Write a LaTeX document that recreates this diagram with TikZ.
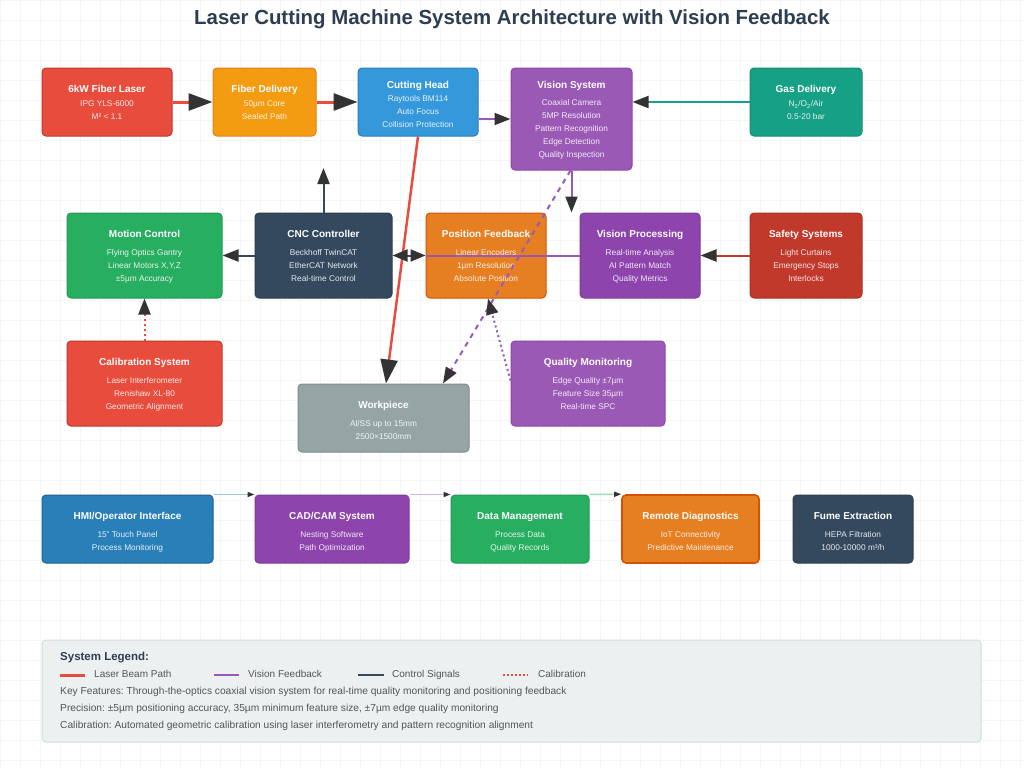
\documentclass[tikz,border=0pt]{standalone}
\usepackage{fontspec}
\setmainfont{Liberation Sans}
\usetikzlibrary{arrows.meta}
\definecolor{titlec}{HTML}{2C3E50}
\definecolor{cRed}{HTML}{E74C3C}\definecolor{cRedD}{HTML}{C0392B}
\definecolor{cOrg}{HTML}{F39C12}\definecolor{cOrgD}{HTML}{E67E22}
\definecolor{cBlue}{HTML}{3498DB}\definecolor{cBlueD}{HTML}{2980B9}
\definecolor{cPur}{HTML}{9B59B6}\definecolor{cPurD}{HTML}{8E44AD}
\definecolor{cPur2}{HTML}{8E44AD}\definecolor{cPur2D}{HTML}{7D3C98}
\definecolor{cTeal}{HTML}{16A085}\definecolor{cTealD}{HTML}{138D75}
\definecolor{cGreen}{HTML}{27AE60}\definecolor{cGreenD}{HTML}{229954}
\definecolor{cDark}{HTML}{34495E}\definecolor{cDarkD}{HTML}{2C3E50}
\definecolor{cOrg2}{HTML}{E67E22}\definecolor{cOrg2D}{HTML}{D35400}
\definecolor{cSafe}{HTML}{C0392B}\definecolor{cSafeD}{HTML}{A93226}
\definecolor{cGray}{HTML}{95A5A6}\definecolor{cGrayD}{HTML}{7F8C8D}
\definecolor{cHmi}{HTML}{2980B9}\definecolor{cHmiD}{HTML}{1F618D}
\definecolor{ahead}{HTML}{333333}
\definecolor{gridc}{HTML}{F4F6F7}
\definecolor{legF}{HTML}{ECF0F1}\definecolor{legB}{HTML}{D5DBDB}
\definecolor{legT}{HTML}{555555}
\frenchspacing
\begin{document}
\begin{tikzpicture}[x=1pt,y=-1pt,
  bx/.style 2 args={fill=#1, draw=#2, rounded corners=4pt, line width=1pt, inner sep=0pt},
  ttl/.style={font=\bfseries\fontsize{10}{12}\selectfont, text=white, inner sep=0pt, text height=7pt, text depth=2pt},
  sub/.style={font=\fontsize{8.3}{13}\selectfont, text=white, text opacity=0.88, align=center, inner sep=0pt},
  bighead/.style={-{Triangle[length=24pt,width=17pt,color=ahead]}},
  midhead/.style={-{Triangle[length=16pt,width=12pt,color=ahead]}},
  smallhead/.style={-{Triangle[length=7pt,width=5pt,color=ahead]}},
  legtext/.style={font=\fontsize{10.2}{12}\selectfont, text=legT, anchor=west, inner sep=0pt, text height=7.4pt, text depth=2.2pt},
  legitem/.style={font=\fontsize{10}{12}\selectfont, text=legT, anchor=west, inner sep=0pt, text height=7.2pt, text depth=2.1pt}
]
\useasboundingbox (0,0) rectangle (1024,768);
\fill[white] (0,0) rectangle (1024,768);
\draw[gridc, line width=0.5pt, step=20pt] (0,0) grid (1024,768);

\node[font=\bfseries\fontsize{20.4}{24}\selectfont, text=titlec] (title) at (512,19) {Laser Cutting Machine System Architecture with Vision Feedback};

% Row 1
\node[bx={cRed}{cRedD}, minimum width=130pt, minimum height=68pt] (laser) at (107,102) {};
\node[ttl] (laserT) at (107,90) {6kW Fiber Laser};
\node[sub] (laserS) at (107,110.5) {IPG YLS-6000\\M² < 1.1};

\node[bx={cOrg}{cOrgD}, minimum width=103pt, minimum height=68pt] (fiber) at (264.5,102) {};
\node[ttl] (fiberT) at (264.5,90) {Fiber Delivery};
\node[sub] (fiberS) at (264.5,110.5) {50µm Core\\Sealed Path};

\node[bx={cBlue}{cBlueD}, minimum width=120pt, minimum height=68pt] (head) at (418,102) {};
\node[ttl] (headT) at (418,86) {Cutting Head};
\node[sub] (headS) at (418,112) {Raytools BM114\\Auto Focus\\Collision Protection};

\node[bx={cPur}{cPurD}, minimum width=121pt, minimum height=102pt] (vision) at (571.5,119) {};
\node[ttl] (visionT) at (571.5,86) {Vision System};
\node[sub] (visionS) at (571.5,129) {Coaxial Camera\\5MP Resolution\\Pattern Recognition\\Edge Detection\\Quality Inspection};

\node[bx={cTeal}{cTealD}, minimum width=112pt, minimum height=68pt] (gas) at (806,102) {};
\node[ttl] (gasT) at (806,90) {Gas Delivery};
\node[sub] (gasS) at (806,110.5) {N\textsubscript{2}/O\textsubscript{2}/Air\\0.5-20 bar};

% Row 2
\node[bx={cGreen}{cGreenD}, minimum width=155pt, minimum height=85pt] (motion) at (144.5,255.5) {};
\node[ttl] (motionT) at (144.5,235) {Motion Control};
\node[sub] (motionS) at (144.5,266) {Flying Optics Gantry\\Linear Motors X,Y,Z\\±5µm Accuracy};

\node[bx={cDark}{cDarkD}, minimum width=137pt, minimum height=85pt] (cnc) at (323.5,255.5) {};
\node[ttl] (cncT) at (323.5,235) {CNC Controller};
\node[sub] (cncS) at (323.5,266) {Beckhoff TwinCAT\\EtherCAT Network\\Real-time Control};

\node[bx={cOrg2}{cOrg2D}, minimum width=120pt, minimum height=85pt] (pf) at (486,255.5) {};
\node[ttl] (pfT) at (486,235) {Position Feedback};
\node[sub] (pfS) at (486,266) {Linear Encoders\\1µm Resolution\\Absolute Position};

\node[bx={cPur2}{cPur2D}, minimum width=120pt, minimum height=85pt] (vp) at (640,255.5) {};
\node[ttl] (vpT) at (640,235) {Vision Processing};
\node[sub] (vpS) at (640,266) {Real-time Analysis\\AI Pattern Match\\Quality Metrics};

\node[bx={cSafe}{cSafeD}, minimum width=112pt, minimum height=85pt] (safety) at (806,255.5) {};
\node[ttl] (safetyT) at (806,235) {Safety Systems};
\node[sub] (safetyS) at (806,266) {Light Curtains\\Emergency Stops\\Interlocks};

% Row 3
\node[bx={cRed}{cRedD}, minimum width=155pt, minimum height=85pt] (calib) at (144.5,383.5) {};
\node[ttl] (calibT) at (144.5,363) {Calibration System};
\node[sub] (calibS) at (144.5,394) {Laser Interferometer\\Renishaw XL-80\\Geometric Alignment};

\node[bx={cGray}{cGrayD}, minimum width=171pt, minimum height=68pt] (work) at (383.5,418) {};
\node[ttl] (workT) at (383.5,406) {Workpiece};
\node[sub] (workS) at (383.5,430.5) {Al/SS up to 15mm\\2500×1500mm};

\node[bx={cPur}{cPurD}, minimum width=154pt, minimum height=85pt] (quality) at (588,383.5) {};
\node[ttl] (qualityT) at (588,363) {Quality Monitoring};
\node[sub] (qualityS) at (588,394) {Edge Quality ±7µm\\Feature Size 35µm\\Real-time SPC};

% Row 4
\node[bx={cHmi}{cHmiD}, minimum width=171pt, minimum height=68pt] (hmi) at (127.5,529) {};
\node[ttl] (hmiT) at (127.5,517) {HMI/Operator Interface};
\node[sub] (hmiS) at (127.5,541.5) {15" Touch Panel\\Process Monitoring};

\node[bx={cPur2}{cPur2D}, minimum width=154pt, minimum height=68pt] (cad) at (332,529) {};
\node[ttl] (cadT) at (332,517) {CAD/CAM System};
\node[sub] (cadS) at (332,541.5) {Nesting Software\\Path Optimization};

\node[bx={cGreen}{cGreenD}, minimum width=138pt, minimum height=68pt] (data) at (520,529) {};
\node[ttl] (dataT) at (520,517) {Data Management};
\node[sub] (dataS) at (520,541.5) {Process Data\\Quality Records};

\node[bx={cOrg2}{cOrg2D}, minimum width=137pt, minimum height=68pt, line width=1.6pt] (remote) at (690.5,529) {};
\node[ttl] (remoteT) at (690.5,517) {Remote Diagnostics};
\node[sub] (remoteS) at (690.5,541.5) {IoT Connectivity\\Predictive Maintenance};

\node[bx={cDark}{cDarkD}, minimum width=120pt, minimum height=68pt] (fume) at (853,529) {};
\node[ttl] (fumeT) at (853,517) {Fume Extraction};
\node[sub] (fumeS) at (853,541.5) {HEPA Filtration\\1000-10000 m³/h};

% Connectors
\coordinate (cncup) at (323.5,168);
\draw[cRed, line width=3pt, bighead] (laser.east) -- (fiber.west);
\draw[cRed, line width=3pt, bighead] (fiber.east) -- (head.west);
\draw[cPur, line width=2pt, midhead] (head.east |- vision.west) -- (vision.west);
\draw[cTeal, line width=2pt, midhead] (gas.west) -- (gas.west -| vision.east);
\draw[cRed, line width=2.5pt, bighead] (head.south) -- ([xshift=2.5pt]work.north);
\draw[cDark, line width=2pt, midhead] (cnc.north) -- (cncup);
\draw[cDark, line width=2pt, midhead] (cnc.west) -- (motion.east);
\draw[cPur, line width=2pt] (vp.west) -- (pf.west);
\draw[cDark, line width=2pt, {Triangle[length=15pt,width=12pt,color=ahead]}-{Triangle[length=15pt,width=12pt,color=ahead]}] (cnc.east) -- (pf.west);
\draw[cPur, line width=2pt, midhead] (vision.south) -- (vision.south |- vp.north);
\draw[cSafe, line width=2pt, midhead] (safety.west) -- (vp.east);
\draw[cRed, line width=2pt, dash pattern=on 2pt off 3pt, midhead] (calib.north) -- (motion.south);
\draw[cPur, line width=2pt, dash pattern=on 5pt off 5pt, midhead] ([xshift=-1pt]vision.south) -- ([xshift=59.5pt]work.north);
\draw[cPur, line width=2pt, dash pattern=on 2pt off 3pt, midhead] ([yshift=3pt]quality.west) -- ([xshift=2pt]pf.south);

\draw[cHmi!45, line width=1.5pt, smallhead] (hmi.north east) -- (cad.north west);
\draw[cPur2!40, line width=1.5pt, smallhead] (cad.north east) -- (data.north west);
\draw[cGreen!45, line width=1.5pt, smallhead] (data.north east) -- (remote.north west);

% Legend
\node[fill=legF, draw=legB, line width=1pt, rounded corners=4pt, minimum width=939pt, minimum height=102pt, inner sep=0pt] (legend) at (511.5,691) {};
\node[font=\bfseries\fontsize{11.5}{13}\selectfont, text=titlec, anchor=west, inner sep=0pt] (legT) at (60,657.5) {System Legend:};
\coordinate (l1a) at (60,675); \coordinate (l1b) at (85,675);
\coordinate (l2a) at (214,675); \coordinate (l2b) at (239,675);
\coordinate (l3a) at (358,675); \coordinate (l3b) at (384,675);
\coordinate (l4a) at (503,675); \coordinate (l4b) at (528,675);
\draw[cRed, line width=3pt] (l1a) -- (l1b);
\draw[cPur, line width=2pt] (l2a) -- (l2b);
\draw[cDark, line width=2pt] (l3a) -- (l3b);
\draw[cRed, line width=2pt, dash pattern=on 2pt off 2pt] (l4a) -- (l4b);
\node[legitem] (li1) at (94,675) {Laser Beam Path};
\node[legitem] (li2) at (248,675) {Vision Feedback};
\node[legitem] (li3) at (392,675) {Control Signals};
\node[legitem] (li4) at (538,675) {Calibration};
\node[legtext] (lt1) at (60,692) {Key Features: Through-the-optics coaxial vision system for real-time quality monitoring and positioning feedback};
\node[legtext] (lt2) at (60,709) {Precision: ±5µm positioning accuracy, 35µm minimum feature size, ±7µm edge quality monitoring};
\node[legtext] (lt3) at (60,726) {Calibration: Automated geometric calibration using laser interferometry and pattern recognition alignment};
\end{tikzpicture}
\end{document}
